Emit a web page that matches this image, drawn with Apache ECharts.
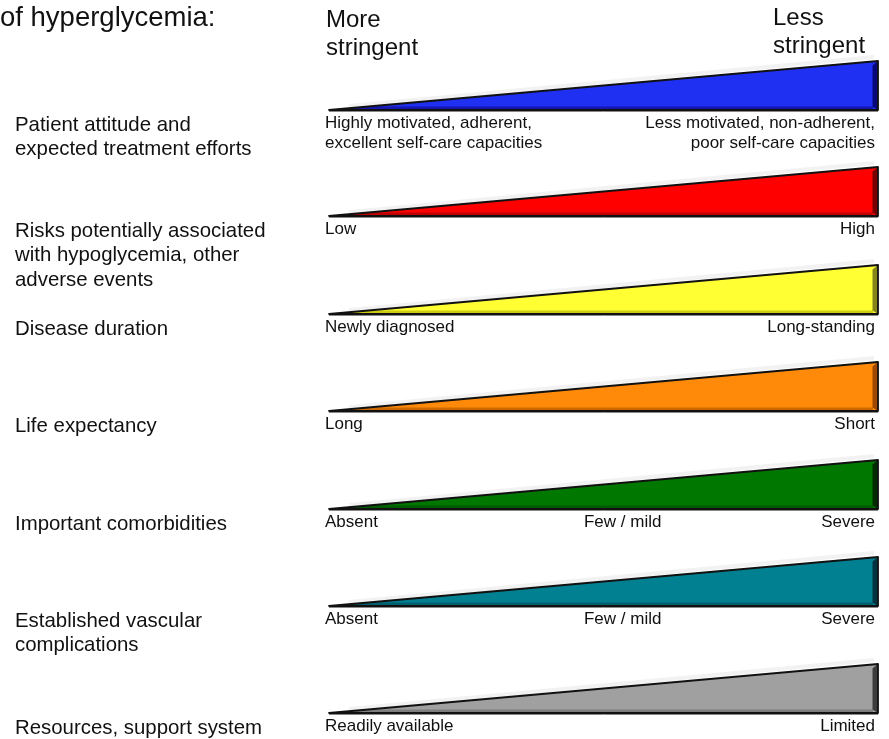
<!DOCTYPE html>
<html><head><meta charset="utf-8">
<script src="https://cdn.jsdelivr.net/npm/echarts@6/dist/echarts.min.js"></script>
<style>html,body{margin:0;padding:0;background:#fff}#c{width:889px;height:739px}</style>
</head><body><div id="c"></div>
<script>
// ---- data ----
const headerText = 'of hyperglycemia:';
const leftEndTitle = ['More', 'stringent'];
const rightEndTitle = ['Less', 'stringent'];
const rowNames = [
  ['Patient attitude and', 'expected treatment efforts'],
  ['Risks potentially associated', 'with hypoglycemia, other', 'adverse events'],
  ['Disease duration'],
  ['Life expectancy'],
  ['Important comorbidities'],
  ['Established vascular', 'complications'],
  ['Resources, support system']
];
const lowLabels = [
  ['Highly motivated, adherent,', 'excellent self-care capacities'],
  ['Low'], ['Newly diagnosed'], ['Long'], ['Absent'], ['Absent'], ['Readily available']
];
const midLabels = [[], [], [], [], ['Few / mild'], ['Few / mild'], []];
const highLabels = [
  ['Less motivated, non-adherent,', 'poor self-care capacities'],
  ['High'], ['Long-standing'], ['Short'], ['Severe'], ['Severe'], ['Limited']
];
const wedgeStart = [0, 0, 0, 0, 0, 0, 0];
const wedgeEnd = [1, 1, 1, 1, 1, 1, 1];
const wedgeHeight = [1, 1, 1, 1, 1, 1, 1];
const midStop = 0.535;

// ---- styles / layout ----
const fills = ['#1f30f2', '#ff0000', '#ffff33', '#ff8a0a', '#007800', '#008091', '#a0a0a0'];
const rightShade = ['#08087a', '#7a0000', '#85851a', '#a04800', '#002c00', '#003440', '#3c3c3c'];
const bottomShade = ['#1616b0', '#c00000', '#cccc10', '#cc6a00', '#005a00', '#006070', '#7e7e7e'];
const rowTops = [61, 167, 265, 362, 460, 557, 664];
const WEDGE_H = 49, GRID_LEFT = 329, GRID_RIGHT = 11;
const FONT = '"Liberation Sans", Arial, sans-serif';

const chart = echarts.init(document.getElementById('c'), null, {renderer: 'canvas'});

const grids = [], xAxes = [], yAxes = [], series = [];
rowNames.forEach((name, i) => {
  grids.push({left: GRID_LEFT, right: GRID_RIGHT, top: rowTops[i], height: WEDGE_H});
  xAxes.push({type: 'value', gridIndex: i, min: 0, max: 1, show: false});
  yAxes.push({type: 'value', gridIndex: i, min: 0, max: 1, show: false});
  series.push({
    type: 'custom', xAxisIndex: i, yAxisIndex: i, clip: false,
    data: [[wedgeStart[i], wedgeEnd[i], wedgeHeight[i]]],
    renderItem: function (params, api) {
      const x0 = api.value(0), x1 = api.value(1), h = api.value(2);
      const tip = api.coord([x0, 0]);
      const br = api.coord([x1, 0]);
      const tr = api.coord([x1, h]);
      const w = br[0] - tip[0], hh = br[1] - tr[1];
      const ch = [];
      ch.push({type: 'polyline', shape: {points: [[tip[0] + 20, tip[1] - 4], [tr[0] - 4, tr[1] - 4]]},
        style: {stroke: 'rgba(0,0,0,0.05)', lineWidth: 4, fill: null}});
      ch.push({type: 'polygon', shape: {points: [tip, br, tr]}, style: {fill: fills[i]}});
      ch.push({type: 'polygon', shape: {points: [
        [tip[0], tip[1]], [br[0] - 5, br[1]], [br[0] - 5, br[1] - 3.5], [tip[0] + w * 3.5 / hh, tip[1] - 3.5]]},
        style: {fill: bottomShade[i]}});
      ch.push({type: 'polygon', shape: {points: [
        [br[0] - 5.5, br[1] - 3.5], [br[0], br[1]], [tr[0], tr[1]], [tr[0] - 5.5, tr[1] + 4.5]]},
        style: {fill: rightShade[i]}});
      ch.push({type: 'polygon', shape: {points: [tip, br, tr]},
        style: {fill: null, stroke: '#111', lineWidth: 1.8, lineJoin: 'round'}});
      ch.push({type: 'polyline', shape: {points: [[tip[0], tip[1] + 1.5], [br[0], br[1] + 1.5]]},
        style: {stroke: '#888', lineWidth: 1, fill: null}});
      const ly = br[1] + 13;
      lowLabels[i].forEach((t, k) => ch.push({type: 'text', style: {text: t, x: tip[0] - 4, y: ly + k * 20,
        font: '17px ' + FONT, fill: '#111', align: 'left', verticalAlign: 'middle'}}));
      const mp = api.coord([midStop, 0]);
      midLabels[i].forEach((t, k) => ch.push({type: 'text', style: {text: t, x: mp[0], y: ly + k * 20,
        font: '17px ' + FONT, fill: '#111', align: 'center', verticalAlign: 'middle'}}));
      highLabels[i].forEach((t, k) => ch.push({type: 'text', style: {text: t, x: br[0] - 3, y: ly + k * 20,
        font: '17px ' + FONT, fill: '#111', align: 'right', verticalAlign: 'middle'}}));
      rowNames[i].forEach((t, k) => ch.push({type: 'text', style: {text: t, x: 15, y: br[1] + 15 + k * 24.5,
        font: '20.4px ' + FONT, fill: '#111', align: 'left', verticalAlign: 'middle'}}));
      return {type: 'group', children: ch};
    }
  });
});

const graphic = [
  {type: 'text', left: 0, top: 4, style: {text: headerText, font: '27.5px ' + FONT, fill: '#111'}},
  {type: 'text', left: 326, top: 6, style: {text: leftEndTitle.join('\n'), font: '24px ' + FONT, fill: '#111', lineHeight: 28}},
  {type: 'text', left: 773, top: 4, style: {text: rightEndTitle.join('\n'), font: '24px ' + FONT, fill: '#111', lineHeight: 28}}
];

chart.setOption({
  animation: false,
  backgroundColor: '#fff',
  grid: grids, xAxis: xAxes, yAxis: yAxes, series: series, graphic: graphic
});
</script></body></html>
